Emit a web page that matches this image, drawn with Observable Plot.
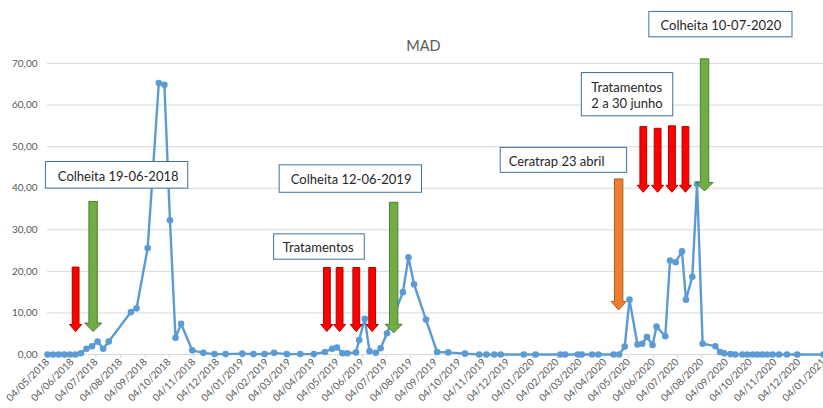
<!DOCTYPE html>
<html>
<head>
<meta charset="utf-8">
<script src="https://cdn.jsdelivr.net/npm/d3@7"></script>
<script src="https://cdn.jsdelivr.net/npm/@observablehq/plot@0.6"></script>
<style>
  html, body { margin: 0; padding: 0; background: #fff; }
</style>
</head>
<body>
<div id="chart"></div>
<script>
// ---- data ----
const sampleDates = [
  "2018-05-04","2018-05-11","2018-05-18","2018-05-25","2018-06-01","2018-06-08","2018-06-15","2018-06-22",
  "2018-06-29","2018-07-06","2018-07-13","2018-07-20","2018-08-17","2018-08-24","2018-09-07","2018-09-21",
  "2018-09-28","2018-10-05","2018-10-12","2018-10-19","2018-11-02","2018-11-16","2018-11-30","2018-12-14",
  "2019-01-04","2019-01-18","2019-02-01","2019-02-13","2019-03-01","2019-03-18","2019-04-04","2019-04-18",
  "2019-04-27","2019-05-03","2019-05-10","2019-05-16","2019-05-27","2019-05-31","2019-06-07","2019-06-13",
  "2019-06-21","2019-06-27","2019-07-05","2019-07-25","2019-08-01","2019-08-08","2019-08-23","2019-09-06",
  "2019-09-20","2019-10-11","2019-10-29","2019-11-07","2019-11-17","2019-11-25","2019-12-24","2020-01-08",
  "2020-02-08","2020-02-14","2020-03-01","2020-03-06","2020-03-19","2020-03-27","2020-04-15","2020-04-22",
  "2020-04-29","2020-05-05","2020-05-15","2020-05-21","2020-05-27","2020-06-03","2020-06-08","2020-06-19",
  "2020-06-25","2020-07-02","2020-07-10","2020-07-15","2020-07-23","2020-07-29","2020-08-05","2020-08-21",
  "2020-08-27","2020-09-01","2020-09-09","2020-09-15","2020-09-24","2020-09-30","2020-10-07","2020-10-13",
  "2020-10-19","2020-10-25","2020-11-01","2020-11-09","2020-11-19","2020-12-02","2021-01-04"
];
const madValues = [
  0, 0, 0, 0, 0, 0, 0.3, 1.4,
  2.0, 3.1, 1.4, 3.1, 10.2, 11.1, 25.6, 65.3,
  64.9, 32.3, 4.0, 7.4, 1.0, 0.4, 0.1, 0.1,
  0.2, 0.1, 0.1, 0.4, 0.1, 0.1, 0.1, 0.6,
  1.4, 1.7, 0.3, 0.3, 0.5, 3.5, 8.6, 0.8,
  0.4, 1.5, 5.1, 15.0, 23.4, 16.9, 8.4, 0.6,
  0.5, 0.2, 0, 0, 0, 0, 0, 0,
  0, 0, 0, 0, 0, 0, 0, 0,
  1.9, 13.2, 2.4, 2.6, 4.2, 2.3, 6.7, 4.4,
  22.6, 22.2, 24.8, 13.2, 18.7, 41.0, 2.6, 2.0,
  0.6, 0.3, 0.1, 0, 0, 0, 0, 0,
  0, 0, 0, 0, 0, 0, 0
];

const xTickLabels = [
  "04/05/2018","04/06/2018","04/07/2018","04/08/2018","04/09/2018","04/10/2018","04/11/2018","04/12/2018",
  "04/01/2019","04/02/2019","04/03/2019","04/04/2019","04/05/2019","04/06/2019","04/07/2019","04/08/2019",
  "04/09/2019","04/10/2019","04/11/2019","04/12/2019","04/01/2020","04/02/2020","04/03/2020","04/04/2020",
  "04/05/2020","04/06/2020","04/07/2020","04/08/2020","04/09/2020","04/10/2020","04/11/2020","04/12/2020",
  "04/01/2021"
];
const yTicks = [0, 10, 20, 30, 40, 50, 60, 70];

// arrows (x date, top value, tip value, kind)
const arrowDates = ["2018-06-09","2018-07-01","2019-04-21","2019-05-07","2019-05-28","2019-06-17","2019-07-14",
                    "2020-04-22","2020-05-23","2020-06-10","2020-06-28","2020-07-15","2020-08-08"];
const arrowTops  = [20.9, 36.7, 20.8, 20.8, 20.8, 20.8, 36.5, 42.1, 54.7, 54.3, 54.9, 54.7, 71.0];
const arrowTips  = [5.4, 5.4, 5.4, 5.4, 5.4, 5.4, 5.1, 10.6, 38.9, 38.9, 38.9, 38.9, 39.2];
const arrowKinds = ["red","green","red","red","red","red","green","orange","red","red","red","red","green"];

// annotation boxes
const boxLabels = ["Colheita 19-06-2018","Colheita 12-06-2019","Tratamentos","Colheita 10-07-2020","Tratamentos\n2 a 30 junho","Ceratrap 23 abril"];
const boxStart  = ["2018-05-02","2019-02-20","2019-02-13","2020-05-30","2020-03-06","2019-11-25"];
const boxEnd    = ["2018-10-28","2019-08-18","2019-06-07","2020-11-26","2020-06-29","2020-05-02"];
const boxTop    = [46.3, 45.5, 28.9, 82.4, 67.7, 49.7];
const boxBottom = [39.9, 38.9, 22.8, 76.3, 57.3, 43.7];
const textStart = ["2018-05-17","2019-03-06","2019-02-24","2020-06-13","2020-03-18","2019-12-05"];

// ---- styles ----
const arrowStyles = {
  red:    {fill: "#FF0000", stroke: "#B00000", w: 3.4, hw: 6.0, hl: 7},
  green:  {fill: "#70AD47", stroke: "#4E7D30", w: 4.2, hw: 8.5, hl: 8.5},
  orange: {fill: "#ED7D31", stroke: "#AE5A21", w: 4.2, hw: 7.5, hl: 8.5}
};

const parseTick = d3.utcParse("%d/%m/%Y");
const data = sampleDates.map((d, i) => ({date: new Date(d), value: madValues[i]}));
const xTicks = xTickLabels.map(parseTick);
const boxes = boxLabels.map((label, i) => ({
  label, x1: new Date(boxStart[i]), x2: new Date(boxEnd[i]), y1: boxTop[i], y2: boxBottom[i],
  tx: new Date(textStart[i]), ty: (boxTop[i] + boxBottom[i]) / 2
}));
const fmtY = d => d.toFixed(2).replace(".", ",");

function arrowsMark(index, scales) {
  const g = d3.create("svg:g");
  arrowDates.forEach((d, i) => {
    const s = arrowStyles[arrowKinds[i]];
    const x = scales.x(new Date(d));
    const y0 = scales.y(arrowTops[i]);
    const y1 = scales.y(arrowTips[i]);
    const yh = y1 - s.hl;
    const pts = [[x - s.w, y0], [x + s.w, y0], [x + s.w, yh], [x + s.hw, yh], [x, y1], [x - s.hw, yh], [x - s.w, yh]];
    g.append("polygon")
      .attr("points", pts.map(p => p.join(",")).join(" "))
      .attr("fill", s.fill)
      .attr("stroke", s.stroke)
      .attr("stroke-width", 1);
  });
  return g.node();
}

const chart = Plot.plot({
  width: 823,
  height: 408,
  marginLeft: 47,
  marginRight: 0,
  marginTop: 63,
  marginBottom: 54,
  style: {fontFamily: "Lato, 'Open Sans', sans-serif", fontSize: "10px", color: "#595959", background: "#fff", overflow: "visible"},
  x: {
    type: "utc",
    domain: [new Date("2018-05-04"), new Date("2021-01-04")],
    ticks: xTicks,
    tickFormat: d3.utcFormat("%d/%m/%Y"),
    tickRotate: -45,
    tickSize: 0,
    tickPadding: 6,
    label: null
  },
  y: {
    domain: [0, 70],
    ticks: yTicks,
    tickFormat: fmtY,
    tickSize: 0,
    tickPadding: 10,
    label: null
  },
  marks: [
    Plot.ruleY(yTicks, {stroke: "#D9D9D9", strokeWidth: 1}),
    Plot.ruleX(xTicks, {y1: 0, y2: 0, insetBottom: -4, stroke: "#D9D9D9", strokeWidth: 1}),
    Plot.line(data, {x: "date", y: "value", stroke: "#5B9BD5", strokeWidth: 2.4}),
    Plot.dot(data, {x: "date", y: "value", r: 3.3, fill: "#5B9BD5", stroke: "none"}),
    Plot.rect(boxes, {x1: "x1", x2: "x2", y1: "y1", y2: "y2", fill: "#fff", stroke: "#41719C", strokeWidth: 1}),
    Plot.text(boxes, {x: "tx", y: "ty", text: "label", textAnchor: "start", fill: "#262626", fontSize: 13, lineHeight: 1.28, fontFamily: "Lato"}),
    arrowsMark,
    Plot.text(["MAD"], {frameAnchor: "top", dx: -12, dy: -23, fill: "#595959", fontSize: 14.5, fontFamily: "Lato"})
  ]
});
document.getElementById("chart").appendChild(chart);
</script>
</body>
</html>
